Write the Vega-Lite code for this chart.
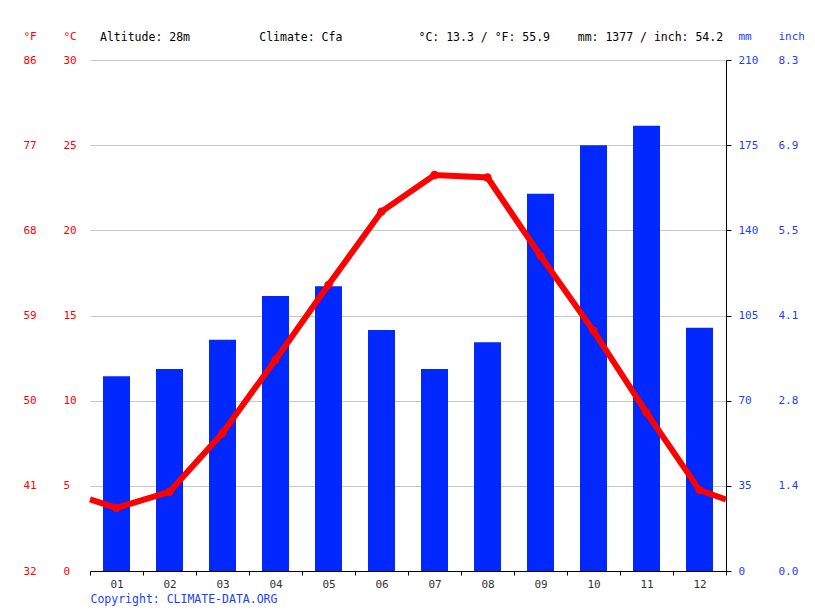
{
  "$schema": "https://vega.github.io/schema/vega-lite/v6.json",
  "width": 636,
  "height": 511,
  "autosize": {"type": "none"},
  "padding": {"left": 90, "top": 60, "right": 89, "bottom": 40},
  "background": "white",
  "config": {
    "font": "DejaVu Sans Mono",
    "view": {"stroke": null},
    "axis": {
      "labelFont": "DejaVu Sans Mono",
      "titleFont": "DejaVu Sans Mono",
      "labelFontSize": 11,
      "titleFontSize": 11,
      "titleFontWeight": "normal"
    }
  },
  "title": {
    "text": "Altitude: 28m\u00a0\u00a0\u00a0\u00a0\u00a0\u00a0\u00a0\u00a0\u00a0\u00a0Climate: Cfa\u00a0\u00a0\u00a0\u00a0\u00a0\u00a0\u00a0\u00a0\u00a0\u00a0\u00a0°C: 13.3 / °F: 55.9\u00a0\u00a0\u00a0\u00a0mm: 1377 / inch: 54.2",
    "anchor": "start",
    "frame": "group",
    "dx": 10,
    "offset": -19.5,
    "baseline": "middle",
    "font": "DejaVu Sans Mono",
    "fontSize": 11.5,
    "fontWeight": "normal",
    "color": "#000000"
  },
  "datasets": {
    "monthly": [
      {"month": 1, "precip": 80, "temp": 3.7},
      {"month": 2, "precip": 83, "temp": 4.65},
      {"month": 3, "precip": 95, "temp": 8.1},
      {"month": 4, "precip": 113, "temp": 12.4},
      {"month": 5, "precip": 117, "temp": 16.8},
      {"month": 6, "precip": 99, "temp": 21.1},
      {"month": 7, "precip": 83, "temp": 23.25},
      {"month": 8, "precip": 94, "temp": 23.1},
      {"month": 9, "precip": 155, "temp": 18.5},
      {"month": 10, "precip": 175, "temp": 14.1},
      {"month": 11, "precip": 183, "temp": 9.3},
      {"month": 12, "precip": 100, "temp": 4.75}
    ],
    "templine": [
      {"month": 0.5, "temp": 4.2},
      {"month": 1, "temp": 3.7},
      {"month": 2, "temp": 4.65},
      {"month": 3, "temp": 8.1},
      {"month": 4, "temp": 12.4},
      {"month": 5, "temp": 16.8},
      {"month": 6, "temp": 21.1},
      {"month": 7, "temp": 23.25},
      {"month": 8, "temp": 23.1},
      {"month": 9, "temp": 18.5},
      {"month": 10, "temp": 14.1},
      {"month": 11, "temp": 9.3},
      {"month": 12, "temp": 4.75},
      {"month": 12.5, "temp": 4.2}
    ]
  },
  "encoding": {
    "x": {
      "field": "month",
      "type": "quantitative",
      "scale": {"domain": [0.5, 12.5], "nice": false, "zero": false, "padding": 0},
      "axis": {
        "values": [0.5, 1.5, 2.5, 3.5, 4.5, 5.5, 6.5, 7.5, 8.5, 9.5, 10.5, 11.5, 12.5],
        "labelExpr": "datum.value > 12 ? '' : (datum.value < 9 ? '0' : '') + format(datum.value + 0.5, 'd')",
        "labelOffset": 26.5,
        "labelFlush": false,
        "labelOverlap": false,
        "labelColor": "#333333",
        "labelPadding": 3,
        "tickSize": 4,
        "tickColor": "#000000",
        "domainColor": "#000000",
        "grid": false,
        "title": "Copyright: CLIMATE-DATA.ORG",
        "titleColor": "#1a3fff",
        "titleFontSize": 11.5,
        "titleX": 0,
        "titleY": 28,
        "titleAlign": "left",
        "titleBaseline": "middle",
        "titleAnchor": "start"
      }
    }
  },
  "layer": [
    {
      "data": {"name": "monthly"},
      "mark": {"type": "bar", "color": "#0028ff", "width": 27},
      "encoding": {
        "y": {
          "field": "precip",
          "type": "quantitative",
          "scale": {"domain": [0, 210], "nice": false},
          "axis": {
            "orient": "right",
            "values": [0, 35, 70, 105, 140, 175, 210],
            "grid": false,
            "domainColor": "#000000",
            "tickColor": "#000000",
            "tickSize": 5,
            "labelPadding": 7,
            "labelAlign": "left",
            "labelColor": "#1a3fff",
            "title": "mm",
            "titleColor": "#1a3fff",
            "titleAngle": 0,
            "titleAlign": "left",
            "titleBaseline": "middle",
            "titleX": 12,
            "titleY": -24
          }
        }
      }
    },
    {
      "data": {"name": "monthly"},
      "mark": {"type": "bar", "opacity": 0, "width": 27},
      "encoding": {
        "y": {
          "field": "precip",
          "type": "quantitative",
          "scale": {"domain": [0, 210], "nice": false},
          "axis": {
            "orient": "right",
            "offset": 40,
            "values": [0, 35, 70, 105, 140, 175, 210],
            "labelExpr": "format(datum.value / 25.4, '.1f')",
            "grid": false,
            "domain": false,
            "ticks": false,
            "tickSize": 0,
            "labelPadding": 12,
            "labelAlign": "left",
            "labelColor": "#1a3fff",
            "title": "inch",
            "titleColor": "#1a3fff",
            "titleAngle": 0,
            "titleAlign": "left",
            "titleBaseline": "middle",
            "titleX": 12,
            "titleY": -24
          }
        }
      }
    },
    {
      "data": {"name": "templine"},
      "mark": {"type": "line", "color": "#ff0000", "strokeWidth": 6},
      "encoding": {
        "y": {
          "field": "temp",
          "type": "quantitative",
          "scale": {"domain": [0, 30], "nice": false},
          "axis": {
            "orient": "left",
            "values": [0, 5, 10, 15, 20, 25, 30],
            "grid": true,
            "gridColor": "#c8c8c8",
            "domain": false,
            "ticks": false,
            "tickSize": 0,
            "labelPadding": 27,
            "labelAlign": "left",
            "labelColor": "#ff0000",
            "title": "°C",
            "titleColor": "#ff0000",
            "titleAngle": 0,
            "titleAlign": "left",
            "titleBaseline": "middle",
            "titleX": -27,
            "titleY": -24
          }
        }
      }
    },
    {
      "data": {"name": "monthly"},
      "mark": {"type": "point", "filled": true, "color": "#ff0000", "opacity": 1, "size": 70},
      "encoding": {
        "y": {
          "field": "temp",
          "type": "quantitative",
          "scale": {"domain": [0, 30], "nice": false},
          "axis": {
            "orient": "left",
            "offset": 40,
            "values": [0, 5, 10, 15, 20, 25, 30],
            "labelExpr": "format(datum.value * 9 / 5 + 32, 'd')",
            "grid": false,
            "domain": false,
            "ticks": false,
            "tickSize": 0,
            "labelPadding": 27,
            "labelAlign": "left",
            "labelColor": "#ff0000",
            "title": "°F",
            "titleColor": "#ff0000",
            "titleAngle": 0,
            "titleAlign": "left",
            "titleBaseline": "middle",
            "titleX": -27,
            "titleY": -24
          }
        }
      }
    }
  ],
  "resolve": {"scale": {"y": "independent"}}
}
